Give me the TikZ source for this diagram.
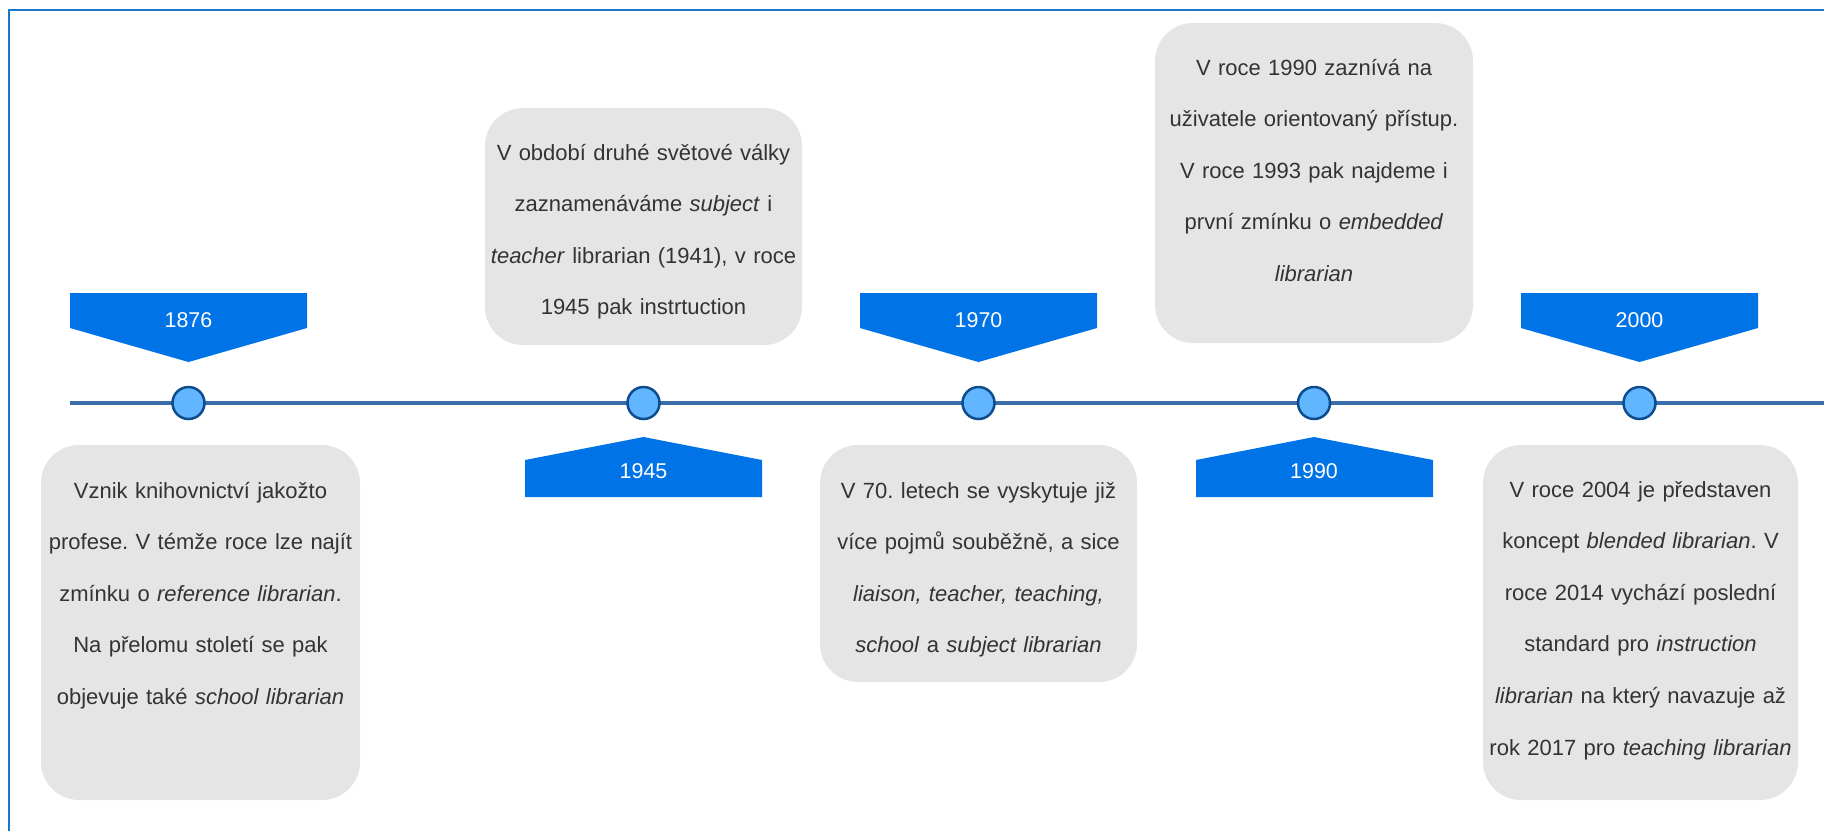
\documentclass[tikz,border=0pt]{standalone}
\usepackage{fontspec}
\setmainfont{Liberation Sans}
\frenchspacing

\definecolor{frameblue}{HTML}{1B75CC}
\definecolor{yearblue}{HTML}{0073E6}
\definecolor{axisblue}{HTML}{3A6EAA}
\definecolor{dotfill}{HTML}{62B6FF}
\definecolor{dotdraw}{HTML}{0D4D8E}
\definecolor{boxgray}{HTML}{E5E5E5}
\definecolor{textgray}{HTML}{333333}

\begin{document}
\begin{tikzpicture}[x=0.5pt,y=-0.5pt,every node/.style={inner sep=0pt},
  infobox/.style={rectangle,fill=boxgray,rounded corners=19pt},
  infotext/.style={text=textgray,text width=170pt,align=center,anchor=base,font=\fontsize{11}{25.8}\selectfont},
  year/.style={text=white,font=\fontsize{10.7}{12}\selectfont},
  dot/.style={circle,draw=dotdraw,fill=dotfill,line width=1.25pt,minimum size=16pt}]
\useasboundingbox (0,0) rectangle (1824,831);
\draw[frameblue,line width=1pt] (9,831) -- (9,10) -- (1824,10);

\node[infobox,minimum width=159.5pt,minimum height=177.5pt] (b1876) at (200.5,622.5) {};
\node[infobox,minimum width=158.5pt,minimum height=118.5pt] (b1945) at (643.5,226.5) {};
\node[infobox,minimum width=158.5pt,minimum height=118.5pt] (b1970) at (978.5,563.5) {};
\node[infobox,minimum width=159pt,minimum height=160pt]     (b1990) at (1314,183)    {};
\node[infobox,minimum width=157.5pt,minimum height=177.5pt] (b2000) at (1640.5,622.5) {};

\node[infotext] (t1876) at (200.5,498) {Vznik knihovnictví jakožto\\ profese. V témže roce lze najít\\ zmínku o \textit{reference librarian}.\\ Na přelomu století se pak\\ objevuje také \textit{school librarian}};
\node[infotext] (t1945) at (643.5,160) {V období druhé světové války\\ zaznamenáváme \textit{subject} i\\ \textit{teacher} librarian (1941), v roce\\ 1945 pak instrtuction};
\node[infotext] (t1970) at (978.5,498) {V 70. letech se vyskytuje již\\ více pojmů souběžně, a sice\\ \textit{liaison, teacher, teaching,}\\ \textit{school} a \textit{subject librarian}};
\node[infotext] (t1990) at (1314,75) {V roce 1990 zaznívá na\\ uživatele orientovaný přístup.\\ V roce 1993 pak najdeme i\\ první zmínku o \textit{embedded}\\ \textit{librarian}};
\node[infotext] (t2000) at (1640.5,497) {V roce 2004 je představen\\ koncept \textit{blended librarian}. V\\ roce 2014 vychází poslední\\ standard pro \textit{instruction}\\ \textit{librarian} na který navazuje až\\ rok 2017 pro \textit{teaching librarian}};

\fill[yearblue] (70,293) -- (307,293) -- (307,328) -- (188.5,362) -- (70,328) -- cycle;
\fill[yearblue] (525,497) -- (762,497) -- (762,460) -- (643.5,437) -- (525,460) -- cycle;
\fill[yearblue] (860,293) -- (1097,293) -- (1097,328) -- (978.5,362) -- (860,328) -- cycle;
\fill[yearblue] (1196,497) -- (1433,497) -- (1433,460) -- (1314,437) -- (1196,460) -- cycle;
\fill[yearblue] (1521,293) -- (1758,293) -- (1758,328) -- (1639.5,362) -- (1521,328) -- cycle;

\node[year] (y1876) at (188.5,320) {1876};
\node[year] (y1945) at (643.5,471) {1945};
\node[year] (y1970) at (978.5,320) {1970};
\node[year] (y1990) at (1314,471)  {1990};
\node[year] (y2000) at (1639.5,320) {2000};

\coordinate (tstart) at (70,403);
\coordinate (tend)   at (1824,403);
\draw[axisblue,line width=1.6pt] (tstart) -- (tend);

\node[dot] (c1876) at (188.5,403)  {};
\node[dot] (c1945) at (643.5,403)  {};
\node[dot] (c1970) at (978.5,403)  {};
\node[dot] (c1990) at (1314,403)   {};
\node[dot] (c2000) at (1639.5,403) {};
\end{tikzpicture}
\end{document}
